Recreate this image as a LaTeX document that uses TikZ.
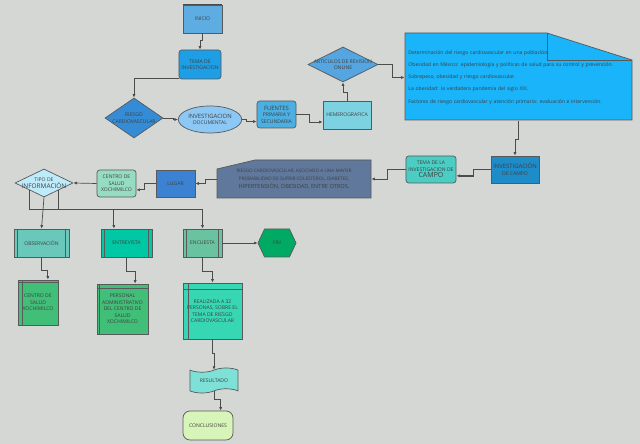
\documentclass[tikz,border=0pt]{standalone}
\usepackage{fontspec}
\setmainfont{Open Sans}
\usepackage{xcolor}
\usepackage{tikz}
\usetikzlibrary{shapes.geometric, shapes.symbols, arrows.meta}

\definecolor{bg_gray}{RGB}{212,215,211}
\definecolor{c_inicio}{RGB}{93,173,226}
\definecolor{c_tema}{RGB}{30,158,228}
\definecolor{c_riesgo}{RGB}{52,140,215}
\definecolor{c_docum}{RGB}{140,200,245}
\definecolor{c_fuentes}{RGB}{75,175,225}
\definecolor{c_hemero}{RGB}{125,210,225}
\definecolor{c_articulos}{RGB}{85,165,225}
\definecolor{c_refs}{RGB}{25,180,250}
\definecolor{c_campo}{RGB}{30,140,200}
\definecolor{c_tcampo}{RGB}{75,205,195}
\definecolor{c_nota}{RGB}{95,120,155}
\definecolor{c_lugar}{RGB}{60,130,210}
\definecolor{c_centro}{RGB}{150,220,195}
\definecolor{c_tipo}{RGB}{190,235,250}
\definecolor{c_obs}{RGB}{105,200,185}
\definecolor{c_entrev}{RGB}{0,200,165}
\definecolor{c_encuesta}{RGB}{105,195,160}
\definecolor{c_fin}{RGB}{0,170,100}
\definecolor{c_store}{RGB}{65,190,120}
\definecolor{c_realizada}{RGB}{55,215,180}
\definecolor{c_result}{RGB}{125,225,215}
\definecolor{c_concl}{RGB}{215,245,185}

\begin{document}
\begin{tikzpicture}[
    x=0.025cm, y=-0.025cm,
    blk/.style={draw=black!65, line width=0.5pt, align=center, inner sep=0.5pt, text=black!75, font=\fontsize{3.6}{4.6}\selectfont},
    flow_box/.style={blk, rectangle},
    round_box/.style={blk, rectangle, rounded corners=2pt},
    dec_box/.style={blk, diamond, inner xsep=-14pt, inner ysep=-5pt},
    inner_line/.style={draw=black!65, line width=0.5pt},
    link_line/.style={draw=black!70, line width=0.5pt, -{Latex[length=2.5pt, width=2.2pt]}}
]
    % Background
    \fill[bg_gray] (0, 0) rectangle (640, 444);
    \useasboundingbox (0, 0) rectangle (640, 444);

    % Top row
    \node (inicio) [flow_box, fill=c_inicio, minimum width=0.975cm, minimum height=0.7cm] at (202.5, 19) {INICIO};
    \draw [line width=1pt, black!70] (inicio.north west) -- (inicio.north east);
    \node (tema) [round_box, fill=c_tema, minimum width=1.05cm, minimum height=0.725cm] at (200, 64.5) {TEMA DE\\INVESTIGACION};
    \node (riesgo) [dec_box, fill=c_riesgo, minimum width=1.45cm, minimum height=1.0cm] at (134, 118) {RIESGO\\CARDIOVASCULAR};
    \node (docum) [blk, ellipse, fill=c_docum, minimum width=1.35cm, minimum height=0.675cm] at (210, 119.5) {{\fontsize{4.2}{5}\selectfont INVESTIGACION}\\DOCUMENTAL};
    \node (fuentes) [round_box, fill=c_fuentes, minimum width=0.975cm, minimum height=0.675cm] at (276.5, 114.5) {{\fontsize{4.2}{5}\selectfont FUENTES}\\PRIMARIA Y\\SECUNDARIA};
    \node (hemero) [flow_box, fill=c_hemero, minimum width=1.2cm, minimum height=0.7cm] at (347, 115) {HEMEROGRAFICA};
    \node (articulos) [dec_box, fill=c_articulos, minimum width=1.75cm, minimum height=0.875cm] at (343, 64.5) {ARTICULOS DE REVISION\\ONLINE};

    % Reference document
    \draw [fill=c_refs, draw=black!65, line width=0.5pt] (405, 33) -- (547, 33) -- (632, 60) -- (632, 120) -- (405, 120) -- cycle;
    \draw [inner_line] (547, 33) -- (547, 60) -- (632, 60);
    \node (refs) [blk, draw=none, align=left, text width=5.5cm, minimum width=5.675cm, minimum height=2.175cm, font=\fontsize{3.6}{8.6}\selectfont] at (518.5, 77.5) {%
        Determinación del riesgo cardiovascular en una población.\\
        Obesidad en México: epidemiología y políticas de salud para su control y prevención.\\
        Sobrepeso, obesidad y riesgo cardiovascular.\\
        La obesidad: la verdadera pandemia del siglo XXI.\\
        Factores de riesgo cardiovascular y atención primaria: evaluación e intervención.};

    % Middle row
    \node (campo) [flow_box, fill=c_campo, minimum width=1.2cm, minimum height=0.675cm] at (515, 169.5) {{\fontsize{4.2}{5}\selectfont INVESTIGACIÓN}\\DE CAMPO};
    \node (tcampo) [round_box, fill=c_tcampo, minimum width=1.25cm, minimum height=0.675cm] at (431, 169.5) {TEMA DE LA\\INVESTIGACION DE\\{\fontsize{5}{6}\selectfont CAMPO}};
    \draw [fill=c_nota, draw=black!65, line width=0.5pt] (217, 169) -- (255, 160) -- (371, 160) -- (371, 198) -- (217, 198) -- cycle;
    \node (nota) [blk, draw=none, minimum width=3.85cm, minimum height=0.95cm, font=\fontsize{3.3}{5.6}\selectfont] at (294, 179) {RIESGO CARDIOVASCULAR, ASOCIADO A UNA MAYOR\\PROBABILIDAD DE SUFRIR COLESTEROL, DIABETES,\\{\fontsize{4}{5}\selectfont HIPERTENSIÓN, OBESIDAD, ENTRE OTROS.}};
    \node (lugar) [flow_box, fill=c_lugar, minimum width=0.975cm, minimum height=0.675cm] at (175.5, 183.5) {LUGAR};
    \node (centro) [round_box, fill=c_centro, minimum width=0.975cm, minimum height=0.675cm] at (116.5, 183.5) {CENTRO DE\\SALUD\\XOCHIMILCO};
    \node (tipo) [dec_box, fill=c_tipo, minimum width=1.45cm, minimum height=0.7cm] at (44, 183) {TIPO DE\\{\fontsize{4.6}{5}\selectfont INFORMACIÓN}};
    \coordinate (split) at (0, 209);

    % Information types
    \node (obs) [flow_box, fill=c_obs, minimum width=1.375cm, minimum height=0.7cm] at (41.5, 243) {OBSERVACIÓN};
    \node (entrev) [flow_box, fill=c_entrev, minimum width=1.275cm, minimum height=0.7cm] at (126.5, 243) {ENTREVISTA};
    \node (encuesta) [flow_box, fill=c_encuesta, minimum width=0.975cm, minimum height=0.7cm] at (202.5, 243) {ENCUESTA};
    \draw [inner_line] ([xshift=2.5pt]obs.north west) -- ([xshift=2.5pt]obs.south west);
    \draw [inner_line] ([xshift=-2.5pt]obs.north east) -- ([xshift=-2.5pt]obs.south east);
    \draw [inner_line] ([xshift=2.5pt]entrev.north west) -- ([xshift=2.5pt]entrev.south west);
    \draw [inner_line] ([xshift=-2.5pt]entrev.north east) -- ([xshift=-2.5pt]entrev.south east);
    \draw [inner_line] ([xshift=2.5pt]encuesta.north west) -- ([xshift=2.5pt]encuesta.south west);
    \draw [inner_line] ([xshift=-2.5pt]encuesta.north east) -- ([xshift=-2.5pt]encuesta.south east);
    \node (fin) [blk, signal, signal to=east and west, signal pointer angle=130, fill=c_fin, minimum width=0.95cm, minimum height=0.7cm] at (277, 243) {FIN};

    % Bottom boxes
    \node (centro_b) [flow_box, fill=c_store, minimum width=1.0cm, minimum height=1.125cm] at (38, 302.5) {CENTRO DE\\SALUD\\XOCHIMILCO};
    \node (personal) [flow_box, fill=c_store, minimum width=1.275cm, minimum height=1.25cm] at (122.5, 309) {PERSONAL\\ADMINISTRATIVO\\DEL CENTRO DE\\SALUD\\XOCHIMILCO};
    \node (realizada) [flow_box, fill=c_realizada, minimum width=1.475cm, minimum height=1.4cm] at (212.5, 311) {REALIZADA A 32\\PERSONAS, SOBRE EL\\TEMA DE RIESGO\\CARDIOVASCULAR};
    \draw [inner_line] ([xshift=3.5pt]centro_b.north west) -- ([xshift=3.5pt]centro_b.south west);
    \draw [inner_line] ([yshift=-1.8pt]centro_b.north west) -- ([yshift=-1.8pt]centro_b.north east);
    \draw [inner_line] ([xshift=2pt]personal.north west) -- ([xshift=2pt]personal.south west);
    \draw [inner_line] ([yshift=-3.5pt]personal.north west) -- ([yshift=-3.5pt]personal.north east);
    \draw [inner_line] ([xshift=4pt]realizada.north west) -- ([xshift=4pt]realizada.south west);
    \draw [inner_line] ([yshift=-4.5pt]realizada.north west) -- ([yshift=-4.5pt]realizada.north east);
    \node (result) [blk, tape, tape bend height=3pt, fill=c_result, minimum width=1.2cm, minimum height=0.625cm] at (214, 380.5) {RESULTADO};
    \node (concl) [blk, rectangle, rounded corners=5pt, fill=c_concl, minimum width=1.25cm, minimum height=0.725cm] at (208, 425.5) {CONCLUSIONES};

    % Connectors
    \draw [link_line] (inicio.south) -- ++(0, 7) -| (tema.north);
    \draw [link_line] ([yshift=1pt]tema.south west) -| (riesgo.north);
    \draw [link_line] (riesgo.east) -- ++(10, 0) |- (docum.west);
    \draw [link_line] (docum.east) -- ++(4, 0) |- ([yshift=-5pt]fuentes.west);
    \draw [link_line] (fuentes.east) -- ++(13, 0) |- ([yshift=-5pt]hemero.west);
    \draw [link_line] (hemero.north) -- ++(0, -8) -| (articulos.south);
    \draw [link_line] (articulos.east) -- ++(14, 0) |- (refs.west);
    \draw [link_line] (refs.south) -- ++(0, 18) -| (campo.north);
    \draw [link_line, line width=1.2pt] (campo.west) -- ++(-17, 0) |- ([yshift=-4.5pt]tcampo.east);
    \draw [link_line] (tcampo.west) -- ++(-18, 0) |- (nota.east);
    \draw [link_line] (nota.west) -- ++(-11, 0) |- (lugar.east);
    \draw [link_line] (lugar.west) -- ++(-11, 0) |- ([yshift=-4.5pt]centro.east);
    \draw [link_line] (centro.west) -- (tipo.east);
    \draw [link_line] (tipo.south) -- (obs.north);
    \draw [link_line] (tipo.south west) -- (tipo.south west |- split) -| (encuesta.north);
    \draw [link_line] (tipo.south east) -- (tipo.south east |- split) -| ([xshift=-9pt]entrev.north);
    \draw [link_line] (obs.south) -- ++(0, 13) -| ([xshift=7pt]centro_b.north);
    \draw [link_line] (entrev.south) -- ++(0, 14) -| ([xshift=9pt]personal.north);
    \draw [link_line] (encuesta.south) -- ++(0, 14) -| (realizada.north);
    \draw [link_line] (encuesta.east) -- (fin.west);
    \draw [link_line] (realizada.south) -- ++(0, 14) -| (result.north);
    \draw [link_line] (result.south) -- ++(0, 8) -| ([xshift=9pt]concl.north);
\end{tikzpicture}
\end{document}
